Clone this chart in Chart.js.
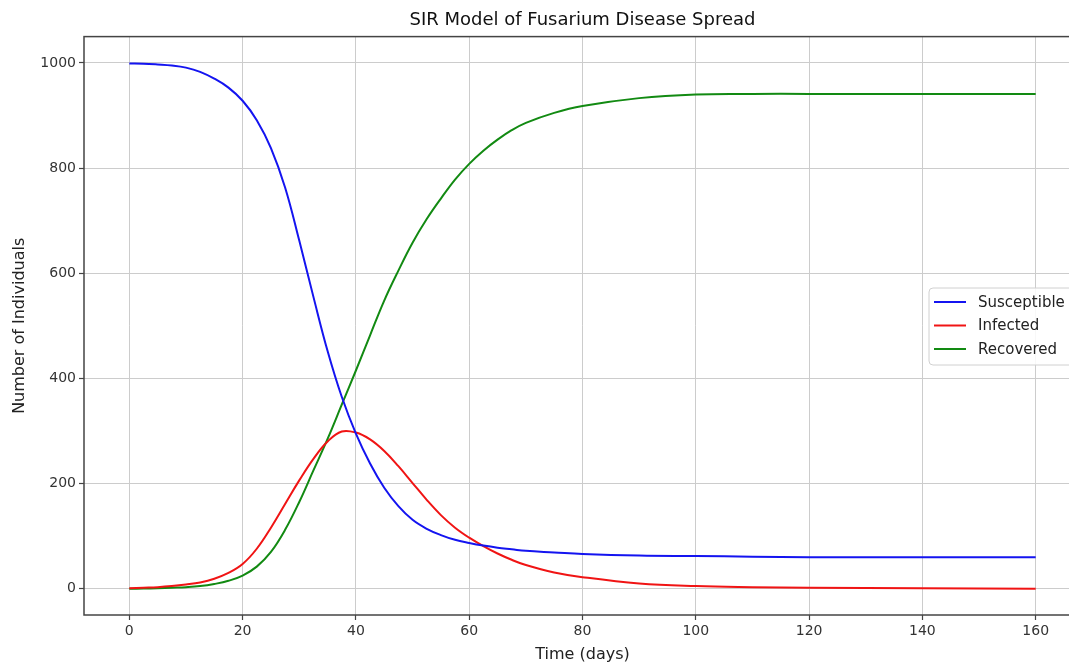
<!DOCTYPE html>
<html>
<head>
<meta charset="utf-8">
<script src="https://cdn.jsdelivr.net/npm/chart.js@4/dist/chart.umd.min.js"></script>
<style>
  html, body { margin: 0; padding: 0; background: #fff; overflow: hidden; }
  #wrap { position: absolute; left: 0; top: 0; width: 1090px; height: 664px; }
</style>
</head>
<body>
<div id="wrap"><canvas id="sirChart" width="1090" height="664"></canvas></div>
<script>
// values
const days = [0, 2.5, 5, 7.5, 10, 12.5, 15, 17.5, 20, 22.5, 25, 27.5, 30, 32.5, 35, 37.5, 40, 42.5, 45, 47.5,
  50, 52.5, 55, 57.5, 60, 62.5, 65, 67.5, 70, 75, 80, 90, 100, 110, 120, 140, 160];
const susceptible = [999, 998.5, 997, 995, 991, 983, 970, 953, 928, 891, 838, 763, 662, 555, 452, 365, 295, 238, 192, 157,
  131, 114, 102, 93, 87, 82, 78, 75, 72, 69, 66, 63, 62, 61, 60, 60, 60];
const infected = [1, 2, 3, 5, 8, 12, 19, 30, 47, 76, 116, 161, 206, 247, 280, 299, 297, 284, 262, 233,
  201, 169, 140, 116, 97, 81, 67, 55, 45, 31, 22, 10, 5, 3, 2, 1, 0];
const recovered = [0, 0.3, 1, 2, 3, 5, 9, 15, 25, 42, 70, 112, 165, 225, 285, 350, 415, 482, 548, 605,
  658, 703, 742, 778, 808, 833, 854, 872, 886, 905, 918, 933, 940, 941, 941, 941, 941];
const xTicks = [0, 20, 40, 60, 80, 100, 120, 140, 160];
const yTicks = [0, 200, 400, 600, 800, 1000];

const FONT = 'DejaVu Sans';

function toPoints(values) {
  return days.map((d, i) => ({ x: d, y: values[i] }));
}

// frame + legend, matplotlib style
const framePlugin = {
  id: 'frame',
  afterDatasetsDraw(chart) {
    const { ctx, chartArea: a } = chart;
    ctx.save();
    ctx.strokeStyle = '#444';
    ctx.lineWidth = 1.5;
    ctx.strokeRect(a.left, a.top, a.right - a.left, a.bottom - a.top);

    // legend box
    const bx = 929, by = 288, bw = 145, bh = 77, r = 4;
    ctx.beginPath();
    ctx.moveTo(bx + r, by);
    ctx.arcTo(bx + bw, by, bx + bw, by + bh, r);
    ctx.arcTo(bx + bw, by + bh, bx, by + bh, r);
    ctx.arcTo(bx, by + bh, bx, by, r);
    ctx.arcTo(bx, by, bx + bw, by, r);
    ctx.closePath();
    ctx.fillStyle = 'rgba(255,255,255,0.85)';
    ctx.fill();
    ctx.strokeStyle = '#d0d0d0';
    ctx.lineWidth = 1;
    ctx.stroke();

    ctx.font = '15px "' + FONT + '"';
    ctx.textBaseline = 'middle';
    ctx.textAlign = 'left';
    chart.data.datasets.forEach((ds, i) => {
      const y = 302 + i * 23.5;
      ctx.strokeStyle = ds.borderColor;
      ctx.lineWidth = 2;
      ctx.beginPath();
      ctx.moveTo(934, y);
      ctx.lineTo(966, y);
      ctx.stroke();
      ctx.fillStyle = '#222';
      ctx.fillText(ds.label, 978, y + 1);
    });
    ctx.restore();
  }
};

const ctx = document.getElementById('sirChart').getContext('2d');
const sirChart = new Chart(ctx, {
  type: 'line',
  data: {
    datasets: [
      { label: 'Susceptible', data: toPoints(susceptible), borderColor: '#1414f0' },
      { label: 'Infected', data: toPoints(infected), borderColor: '#f01414' },
      { label: 'Recovered', data: toPoints(recovered), borderColor: '#128a12' }
    ]
  },
  options: {
    responsive: false,
    animation: false,
    layout: { padding: { top: 0, left: 0, right: 9, bottom: 0 } },
    elements: {
      point: { radius: 0 },
      line: { borderWidth: 2, fill: false, tension: 0.4 }
    },
    plugins: {
      legend: { display: false },
      tooltip: { enabled: false },
      title: {
        display: true,
        fullSize: false,
        text: 'SIR Model of Fusarium Disease Spread',
        color: '#111',
        font: { family: FONT, size: 18, weight: 'normal' },
        padding: { top: 10, bottom: 5 }
      }
    },
    scales: {
      x: {
        type: 'linear',
        min: -8,
        max: 168,
        afterFit(scale) { scale.height = 49; },
        afterBuildTicks(scale) { scale.ticks = xTicks.map(v => ({ value: v })); },
        grid: { color: '#cccccc', lineWidth: 1, drawTicks: true, tickLength: 5, tickColor: '#444', tickWidth: 1.2 },
        border: { display: false },
        ticks: { color: '#333', padding: 3, maxRotation: 0, font: { family: FONT, size: 14 }, callback: v => String(v) },
        title: {
          display: true,
          text: 'Time (days)',
          color: '#222',
          font: { family: FONT, size: 16 },
          padding: { top: -3, bottom: 0 }
        }
      },
      y: {
        type: 'linear',
        min: -50,
        max: 1050,
        afterFit(scale) { scale.width = 84; },
        afterBuildTicks(scale) { scale.ticks = yTicks.map(v => ({ value: v })); },
        grid: { color: '#cccccc', lineWidth: 1, drawTicks: true, tickLength: 5, tickColor: '#444', tickWidth: 1.2 },
        border: { display: false },
        ticks: { color: '#333', padding: 3, font: { family: FONT, size: 14 }, callback: v => String(v) },
        title: {
          display: true,
          text: 'Number of Individuals',
          color: '#222',
          font: { family: FONT, size: 16 },
          padding: { top: 10, bottom: 0 }
        }
      }
    }
  },
  plugins: [framePlugin]
});
</script>
</body>
</html>
